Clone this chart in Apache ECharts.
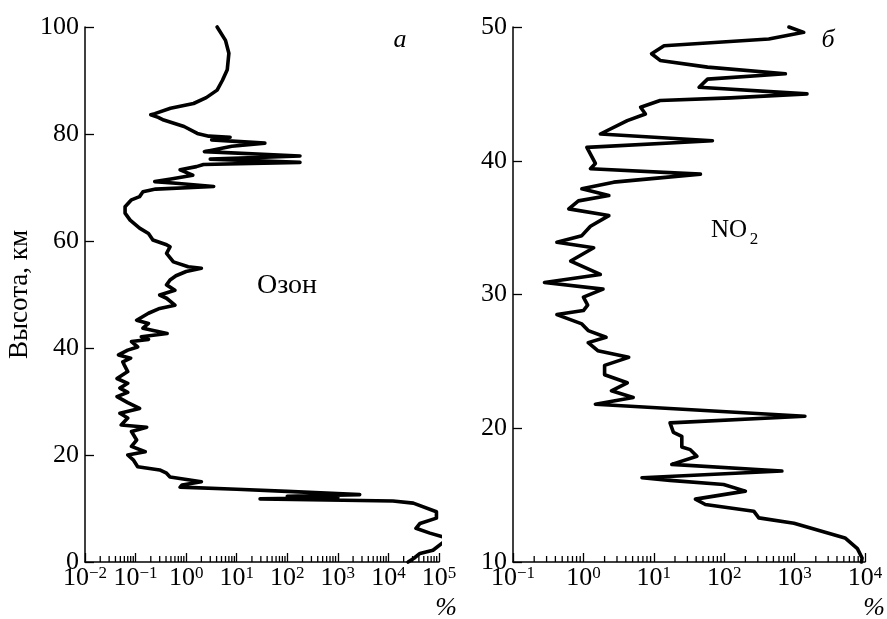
<!DOCTYPE html>
<html>
<head>
<meta charset="utf-8">
<script src="https://cdn.jsdelivr.net/npm/echarts@6/dist/echarts.min.js"></script>
<style>
html, body { margin: 0; padding: 0; background: #fff; }
#main { width: 887px; height: 619px; }
</style>
</head>
<body>
<div id="main"></div>
<script>
// altitude (km) and value (%), top to bottom
const ozoneAlt = [100.0, 97.5, 95.1, 92.0, 90.0, 88.2, 86.8, 85.7, 84.8, 83.8, 83.6, 83.1, 82.6, 81.4, 80.1,
    79.6, 79.4, 78.9, 78.3, 77.7, 76.7, 75.9, 75.3, 74.7, 74.3, 73.9, 73.3, 72.3, 71.6, 71.1, 70.8, 70.2,
    69.7, 69.2, 68.3, 67.7, 66.4, 65.2, 63.9, 62.4, 61.4, 60.2, 59.3, 58.9, 57.7, 56.1, 55.2, 54.9, 54.3,
    53.5, 52.7, 51.8, 50.8, 49.9, 49.3, 48.0, 47.7, 47.4, 46.5, 45.2, 44.6, 43.7, 42.7, 42.1, 41.6, 41.2,
    40.2, 39.6, 38.7, 38.1, 37.4, 36.8, 35.6, 34.3, 33.4, 32.5, 31.7, 30.9, 29.8, 28.7, 27.8, 26.9, 25.6,
    25.2, 24.4, 22.8, 21.6, 20.6, 20.0, 19.1, 17.8, 17.2, 16.6, 15.9, 15.0, 14.4, 14.0, 13.6, 13.2, 12.6,
    12.3, 12.0, 11.8, 11.6, 11.4, 11.0, 9.4, 8.2, 7.2, 6.3, 5.4, 4.4, 2.2, 1.6, 0.7, 0.0];
const ozoneVal = [4.1, 6.0, 7.0, 6.5, 5.2, 4.1, 2.5, 1.4, 0.49, 0.24, 0.2, 0.28, 0.36, 0.91, 1.66,
    2.8, 7.4, 3.2, 36, 8, 2.3, 178, 3.0, 178, 2.2, 1.6, 0.76, 1.35, 0.5, 0.24, 0.63, 3.5,
    0.25, 0.14, 0.12, 0.083, 0.062, 0.062, 0.078, 0.12, 0.18, 0.22, 0.41, 0.48, 0.41, 0.56, 1.1, 2.0, 1.0,
    0.63, 0.48, 0.41, 0.6, 0.3, 0.41, 0.6, 0.65, 0.3, 0.18, 0.105, 0.18, 0.14, 0.42, 0.13, 0.18, 0.083,
    0.11, 0.07, 0.046, 0.08, 0.056, 0.06, 0.07, 0.043, 0.07, 0.049, 0.07, 0.043, 0.07, 0.12, 0.049, 0.07, 0.052,
    0.166, 0.083, 0.105, 0.083, 0.155, 0.07, 0.09, 0.11, 0.3, 0.41, 0.48, 2.0, 0.83, 0.76, 10, 100, 2700,
    100, 1000, 29, 600, 12300, 31000, 89000, 89000, 42000, 35000, 66000, 151000, 76000, 42000, 32000, 24500];

const no2Alt = [50.0, 49.6, 49.1, 48.6, 48.0, 47.5, 47.0, 46.5, 46.1, 45.5, 45.0, 44.7, 44.5, 44.0, 43.5,
    43.0, 42.0, 41.5, 41.0, 39.8, 39.4, 39.0, 38.4, 37.9, 37.4, 37.0, 36.4, 35.9, 35.1, 34.4, 33.9, 33.5,
    32.5, 31.5, 30.9, 30.4, 29.8, 29.2, 28.8, 28.5, 27.8, 27.3, 26.8, 26.4, 25.8, 25.3, 24.7, 24.0, 23.4,
    22.8, 22.3, 21.8, 20.9, 20.4, 19.7, 19.4, 18.6, 18.4, 17.9, 17.3, 16.8, 16.3, 16.1, 15.8, 15.3, 14.7,
    14.3, 13.8, 13.3, 12.9, 11.8, 11.0, 10.3, 10.0];
const no2Val = [830, 1350, 430, 14, 9.3, 12.3, 58, 740, 58, 44, 1500, 123, 12.3, 6.5, 7.6,
    4.2, 1.74, 68, 1.12, 1.48, 1.26, 46, 2.7, 0.95, 2.3, 0.85, 0.62, 2.3, 1.26, 0.95, 0.42, 1.4,
    0.66, 1.74, 0.28, 1.9, 1.0, 1.15, 1.0, 0.42, 0.95, 1.17, 2.1, 1.17, 1.6, 4.4, 2.0, 2.0, 4.2,
    2.5, 5.1, 1.48, 1400, 17, 19, 25, 25, 33, 41, 18, 660, 6.8, 17, 98, 200, 39,
    54, 263, 310, 980, 5200, 7800, 9100, 8900];

// axis ranges (decade exponents) and altitude ticks
const ozoneDecades = [-2, -1, 0, 1, 2, 3, 4, 5];
const no2Decades = [-1, 0, 1, 2, 3, 4];
const ozoneAltTicks = [0, 20, 40, 60, 80, 100];
const no2AltTicks = [10, 20, 30, 40, 50];
const minorSteps = [2, 3, 4, 5, 6, 7, 8, 9];

const FONT = '"Liberation Serif", "Times New Roman", serif';

function minorTicks(decades, yBase) {
    const out = [];
    for (let i = 0; i < decades.length - 1; i++) {
        minorSteps.forEach(k => out.push([k * Math.pow(10, decades[i]), yBase]));
    }
    return out;
}

function expLabel(v) {
    const e = Math.round(Math.log10(v));
    return '{b|10}{s|' + (e < 0 ? '\u2212' + (-e) : e) + '}';
}

const labelRich = {
    b: { fontSize: 26, fontFamily: FONT, color: '#000', verticalAlign: 'bottom' },
    s: { fontSize: 17, fontFamily: FONT, color: '#000', verticalAlign: 'top' }
};

function xAxisFor(gridIndex, decades) {
    return {
        type: 'log',
        logBase: 10,
        gridIndex: gridIndex,
        min: Math.pow(10, decades[0]),
        max: Math.pow(10, decades[decades.length - 1]),
        splitNumber: decades.length - 1,
        axisLine: { lineStyle: { color: '#000', width: 1.5 } },
        axisTick: { inside: true, length: 9, lineStyle: { color: '#000', width: 1.3 } },
        splitLine: { show: false },
        axisLabel: {
            margin: 3,
            formatter: expLabel,
            rich: labelRich,
            showMinLabel: true,
            showMaxLabel: true
        }
    };
}

function yAxisFor(gridIndex, ticks) {
    return {
        type: 'value',
        gridIndex: gridIndex,
        min: ticks[0],
        max: ticks[ticks.length - 1],
        interval: ticks[1] - ticks[0],
        axisLine: { show: true, lineStyle: { color: '#000', width: 1.5 } },
        axisTick: { show: true, inside: true, length: 9, lineStyle: { color: '#000', width: 1.3 } },
        splitLine: { show: false },
        axisLabel: { margin: 6, fontSize: 26, fontFamily: FONT, color: '#000' }
    };
}

function tickSeries(idx, decades, yBase) {
    return {
        type: 'custom',
        xAxisIndex: idx,
        yAxisIndex: idx,
        silent: true,
        clip: false,
        data: minorTicks(decades, yBase),
        encode: { x: 0, y: 1 },
        renderItem: function (params, api) {
            const p = api.coord([api.value(0), api.value(1)]);
            return {
                type: 'line',
                shape: { x1: p[0], y1: p[1], x2: p[0], y2: p[1] - 6 },
                style: { stroke: '#000', lineWidth: 1.3 }
            };
        }
    };
}

function profile(idx, vals, alts) {
    return {
        type: 'line',
        xAxisIndex: idx,
        yAxisIndex: idx,
        data: vals.map((v, i) => [v, alts[i]]),
        showSymbol: false,
        symbol: 'none',
        clip: false,
        silent: true,
        lineStyle: { color: '#000', width: 3.6, join: 'round', cap: 'round' }
    };
}

const chart = echarts.init(document.getElementById('main'));
const yLeft = yAxisFor(0, ozoneAltTicks);
yLeft.name = 'Высота, км';
yLeft.nameLocation = 'middle';
yLeft.nameRotate = 90;
yLeft.nameGap = 52;
yLeft.nameTextStyle = { fontSize: 27, fontFamily: FONT, color: '#000' };

const textStyle = (t, x, y, size, italic) => ({
    type: 'text', x: x, y: y, silent: true,
    style: {
        text: t, fill: '#000', align: 'center', verticalAlign: 'middle',
        font: (italic ? 'italic ' : '') + size + 'px ' + FONT
    }
});

chart.setOption({
    animation: false,
    backgroundColor: '#fff',
    grid: [
        { left: 85, top: 27, width: 354, height: 535 },
        { left: 513, top: 27, width: 352, height: 535 }
    ],
    xAxis: [xAxisFor(0, ozoneDecades), xAxisFor(1, no2Decades)],
    yAxis: [yLeft, yAxisFor(1, no2AltTicks)],
    series: [
        tickSeries(0, ozoneDecades, ozoneAltTicks[0]),
        tickSeries(1, no2Decades, no2AltTicks[0]),
        profile(0, ozoneVal, ozoneAlt),
        profile(1, no2Val, no2Alt)
    ],
    graphic: [
        textStyle('а', 400, 40, 26, true),
        textStyle('б', 828, 40, 26, true),
        textStyle('Озон', 287, 286, 28, false),
        textStyle('NO', 729, 230, 25, false),
        textStyle('2', 754, 240, 17, false),
        textStyle('%', 446, 608, 26, true),
        textStyle('%', 874, 608, 26, true)
    ]
});
</script>
</body>
</html>
